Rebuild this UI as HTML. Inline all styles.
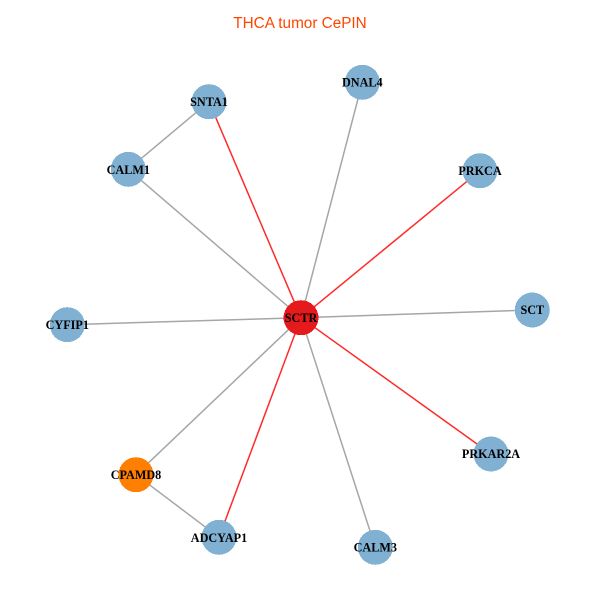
<!DOCTYPE html>
<html><head><meta charset="utf-8"><style>
html,body{margin:0;padding:0;background:#fff;width:600px;height:600px;overflow:hidden}
svg{display:block}
.n{font:bold 12.2px "Liberation Serif",serif;text-anchor:middle;fill:#000}
</style></head><body>
<svg width="600" height="600" viewBox="0 0 600 600" xmlns="http://www.w3.org/2000/svg">
<rect width="600" height="600" fill="#fff"/>
<text x="300" y="28" font-family="'Liberation Sans',sans-serif" font-size="15.3" fill="#FF4500" text-anchor="middle">THCA tumor CePIN</text>
<g stroke="#A6A6A6" stroke-width="1.5" fill="none">
<line x1="209" y1="101.7" x2="128.3" y2="169.3"/>
<line x1="136" y1="474.7" x2="219" y2="537.3"/>
<line x1="301" y1="317.7" x2="128.3" y2="169.3"/>
<line x1="301" y1="317.7" x2="362.3" y2="82.3"/>
<line x1="301" y1="317.7" x2="532.3" y2="310"/>
<line x1="301" y1="317.7" x2="375.3" y2="547.3"/>
<line x1="301" y1="317.7" x2="136" y2="474.7"/>
<line x1="301" y1="317.7" x2="67.3" y2="324.7"/>
</g>
<g stroke="#FF2A2A" stroke-width="1.5" fill="none">
<line x1="301" y1="317.7" x2="209" y2="101.7"/>
<line x1="301" y1="317.7" x2="480" y2="170.7"/>
<line x1="301" y1="317.7" x2="491" y2="454"/>
<line x1="301" y1="317.7" x2="219" y2="537.3"/>
</g>
<g fill="#80B1D3" shape-rendering="crispEdges">
<circle cx="209" cy="101.7" r="17.5"/>
<circle cx="128.3" cy="169.3" r="17.5"/>
<circle cx="362.3" cy="82.3" r="17.5"/>
<circle cx="480" cy="170.7" r="17.5"/>
<circle cx="532.3" cy="310" r="17.5"/>
<circle cx="491" cy="454" r="17.5"/>
<circle cx="375.3" cy="547.3" r="17.5"/>
<circle cx="219" cy="537.3" r="17.5"/>
<circle cx="67.3" cy="324.7" r="17.5"/>
</g>
<circle cx="136" cy="474.7" r="17.5" fill="#FF7F00" shape-rendering="crispEdges"/>
<circle cx="301" cy="317.7" r="17.5" fill="#E41A1C" shape-rendering="crispEdges"/>
<g>
<text class="n" x="209" y="106">SNTA1</text>
<text class="n" x="128.3" y="174">CALM1</text>
<text class="n" x="362.3" y="86.5">DNAL4</text>
<text class="n" x="480" y="175">PRKCA</text>
<text class="n" x="532.3" y="314">SCT</text>
<text class="n" x="491" y="458">PRKAR2A</text>
<text class="n" x="375.3" y="551.5">CALM3</text>
<text class="n" x="219" y="542">ADCYAP1</text>
<text class="n" x="67.3" y="329">CYFIP1</text>
<text class="n" x="136" y="479">CPAMD8</text>
<text class="n" x="301" y="322">SCTR</text>
</g>
</svg>
</body></html>
